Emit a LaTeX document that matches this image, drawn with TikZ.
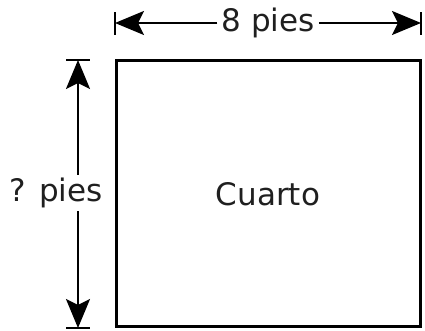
\documentclass[tikz,border=0pt]{standalone}
\usepackage{fontspec}
\setmainfont{DejaVu Sans}
\usetikzlibrary{arrows.meta, positioning}

\begin{document}
\begin{tikzpicture}[x=1pt,y=1pt,
		dim/.style={line width=2.3pt, -{Stealth[length=29pt,width=24pt,inset=6pt]}},
		bar/.style={line width=2.3pt},
		lbl/.style={font=\fontsize{31}{36}\selectfont, text=black!88, inner sep=4pt}]
		\useasboundingbox (0,0) rectangle (425,331);
		\node[draw, line width=3pt, minimum width=304pt, minimum height=266pt, lbl] (cuarto) at (268,137) {Cuarto};
		% top dimension
		\coordinate (tl) at (115,308);
		\coordinate (tr) at (421,308);
		\node[lbl] (ancho) at (268,308) {8 pies};
		\draw[bar] ([yshift=-12pt]tl) -- ([yshift=11pt]tl);
		\draw[bar] ([yshift=-12pt]tr) -- ([yshift=11pt]tr);
		\draw[dim] (ancho) -- (tl);
		\draw[dim] (ancho) -- (tr);
		% left dimension
		\coordinate (lt) at (78,271);
		\coordinate (lb) at (78,3);
		\node[lbl, inner sep=3pt] (alto) at (56,138) {? pies};
		\draw[bar] ([xshift=-12pt]lt) -- ([xshift=12pt]lt);
		\draw[bar] ([xshift=-12pt]lb) -- ([xshift=12pt]lb);
		\draw[dim] (alto.north -| lt) -- (lt);
		\draw[dim] (alto.south -| lb) -- (lb);
\end{tikzpicture}
\end{document}
